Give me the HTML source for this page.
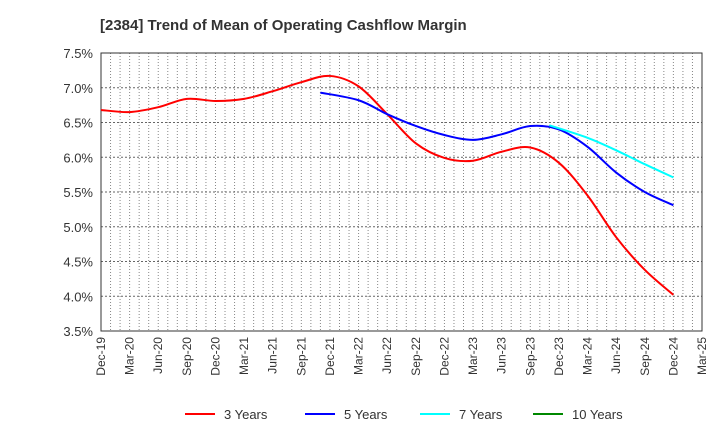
<!DOCTYPE html>
<html><head><meta charset="utf-8"><style>
body{margin:0;background:#fff;font-family:"Liberation Sans",sans-serif}
</style></head><body>
<svg id="c" width="720" height="440" xmlns="http://www.w3.org/2000/svg">
<text x="100" y="30" font-size="15" font-weight="bold" fill="#333">[2384]  Trend of Mean of Operating Cashflow Margin</text>
<g id="grid"></g><g id="axes"></g><g id="series"></g><g id="legend"></g>
</svg>
<script>
const xLabels=["Dec-19","Mar-20","Jun-20","Sep-20","Dec-20","Mar-21","Jun-21","Sep-21","Dec-21","Mar-22","Jun-22","Sep-22","Dec-22","Mar-23","Jun-23","Sep-23","Dec-23","Mar-24","Jun-24","Sep-24","Dec-24","Mar-25"];
const yTicks=[3.5,4.0,4.5,5.0,5.5,6.0,6.5,7.0,7.5];
const redMonths=[0,3,6,9,12,15,18,21,24,27,30,33,36,39,42,45,48,51,54,57,60];
const redVals=[6.68,6.65,6.72,6.84,6.81,6.84,6.95,7.08,7.17,7.02,6.62,6.20,5.99,5.95,6.08,6.14,5.92,5.45,4.85,4.38,4.02];
const blueMonths=[23,27,30,33,36,39,42,45,48,51,54,57,60];
const blueVals=[6.93,6.82,6.62,6.45,6.32,6.25,6.33,6.45,6.40,6.15,5.78,5.50,5.31];
const cyanMonths=[47,51,54,57,60];
const cyanVals=[6.46,6.28,6.10,5.90,5.71];
const L=101,R=702,T=53,B=331,NS="http://www.w3.org/2000/svg";
const xs=m=>L+(R-L)*m/63, ys=v=>B-(v-3.5)/4*(B-T);
function mk(p,t,a){const e=document.createElementNS(NS,t);for(const k in a)e.setAttribute(k,a[k]);document.getElementById(p).appendChild(e);return e;}
for(let m=0;m<=63;m++){const l=mk('grid','line',{x1:xs(m),x2:xs(m),y1:T,y2:B,stroke:'#888','stroke-dasharray':'1,2','stroke-width':1});

}
yTicks.forEach(v=>{const l=mk('grid','line',{x1:L,x2:R,y1:ys(v),y2:ys(v),stroke:'#666','stroke-dasharray':'2,2'});


const t=mk('axes','text',{x:L-8,y:ys(v)+5,'text-anchor':'end','font-size':13,fill:'#333'});t.textContent=v.toFixed(1)+'%';

});
xLabels.forEach((s,i)=>{const x=xs(i*3),t=mk('axes','text',{x:x+4,y:B+6,'text-anchor':'end','font-size':12,fill:'#333',transform:`rotate(-90 ${x+4} ${B+6})`});t.textContent=s;

});
const fr=mk('axes','rect',{x:L,y:T,width:R-L,height:B-T,fill:'none',stroke:'#333'});


function path(ms,vs){const p=ms.map((m,i)=>[xs(m),ys(vs[i])]);let d=`M${p[0][0]},${p[0][1]}`;
for(let i=0;i<p.length-1;i++){const p0=p[i-1]||p[i],p1=p[i],p2=p[i+1],p3=p[i+2]||p2;
d+=` C${p1[0]+(p2[0]-p0[0])/6},${p1[1]+(p2[1]-p0[1])/6} ${p2[0]-(p3[0]-p1[0])/6},${p2[1]-(p3[1]-p1[1])/6} ${p2[0]},${p2[1]}`;}return d;}
[[redMonths,redVals,'#f00','series-3-years'],[blueMonths,blueVals,'#00f','series-5-years'],[cyanMonths,cyanVals,'#0ff','series-7-years']].forEach(s=>{
const e=mk('series','path',{d:path(s[0],s[1]),fill:'none',stroke:s[2],'stroke-width':2});

});
[['3 Years','#f00',185],['5 Years','#00f',305],['7 Years','#0ff',420],['10 Years','#080',533]].forEach(g=>{
const l=mk('legend','line',{x1:g[2],x2:g[2]+30,y1:414,y2:414,stroke:g[1],'stroke-width':2});


const t=mk('legend','text',{x:g[2]+39,y:419,'font-size':13,fill:'#333'});t.textContent=g[0];

});
</script>
</body></html>
